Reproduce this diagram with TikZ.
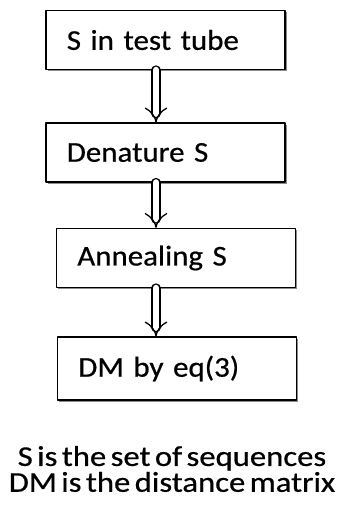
\documentclass[tikz,border=0pt]{standalone}
\usepackage{fontspec}
\setmainfont{Carlito}
\newfontfamily\boxface[FakeStretch=1.08,FakeBold=0.6,WordSpace=0.6]{Carlito}
\newfontfamily\noteface[FakeStretch=1.14,FakeBold=0.6,WordSpace=0.6]{Carlito}
\usepackage{tikz}
\usetikzlibrary{arrows.meta,shadows}

\tikzset{
  stepbox/.style={draw,line width=1.1pt,fill=white,
    minimum width=179pt,minimum height=44pt,
    text width=148pt,align=left,inner xsep=15pt,
    font=\boxface\fontsize{21.5}{24}\selectfont,
    drop shadow={shadow xshift=1.3pt,shadow yshift=-1.3pt,opacity=0.45,fill=black}},
  flow/.style={double,double distance=5pt,line width=1pt,-{Implies}},
  note/.style={align=center,font=\noteface\fontsize{21.5}{17.5}\selectfont}
}

\begin{document}
\begin{tikzpicture}[line cap=round,line join=round,x=0.75pt,y=-0.75pt]
\useasboundingbox (0,0) rectangle (340,513);
\node[stepbox] (tube) at (165.5,40) {S in test tube};
\node[stepbox] (denat) at (165.5,152.5) {Denature S};
\node[stepbox] (anneal) at (176,258) {Annealing S};
\node[stepbox,minimum height=47pt] (dm) at (177,368.5) {DM by eq(3)};
\draw[flow] (tube.south -| 156,0) -- (denat.north -| 156,0);
\draw[flow] (denat.south -| 156,0) -- (anneal.north -| 156,0);
\draw[flow] (anneal.south -| 156,0) -- (dm.north -| 156,0);
\node[note] (legend) at (172,469) {S is the set of sequences\\DM is the distance matrix};
\end{tikzpicture}
\end{document}
